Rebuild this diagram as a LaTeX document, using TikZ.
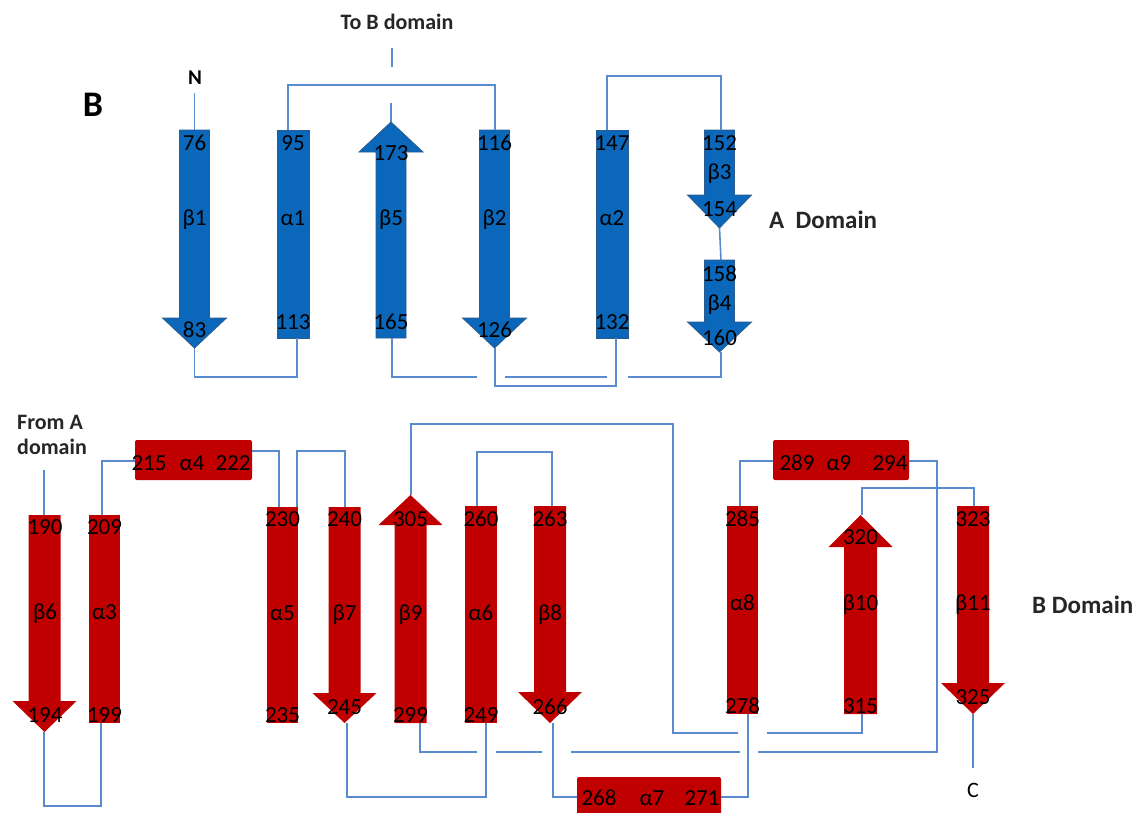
\documentclass[tikz,border=0pt]{standalone}
\usepackage{fontspec}
\setmainfont{Carlito}
\definecolor{ablue}{HTML}{0A67B9}
\definecolor{abluedge}{HTML}{2D5B8E}
\definecolor{bred}{HTML}{C00000}
\definecolor{linkblue}{HTML}{5A8BCF}
\newcommand\Strand[6]{% style, cx, shaft end, head base, tip, half shaft
  \path[#1] ({#2-#6},#3) -- ({#2+#6},#3) -- ({#2+#6},#4) -- ({#2+32},#4) -- (#2,#5) -- ({#2-32},#4) -- ({#2-#6},#4) -- cycle;}
\newcommand\Helix[5]{% style, cx, half width, top, bottom
  \path[#1] ({#2-#3},#4) rectangle ({#2+#3},#5);}
\begin{document}
\begin{tikzpicture}[x=1pt,y=-1pt,
  num/.style={font=\fontsize{23}{25}\selectfont, inner sep=0pt, text height=14.5pt, text depth=0pt, text=black},
  lab/.style={font=\bfseries\fontsize{22}{26}\selectfont, inner sep=0pt, text=black!85},
  dlab/.style={font=\bfseries\fontsize{25}{28}\selectfont, inner sep=0pt, text=black!85},
  conn/.style={draw=linkblue, line width=1.6pt},
  bA/.style={fill=ablue, draw=abluedge, line width=0.8pt},
  bB/.style={fill=bred},
  hbox/.style={fill=bred, rounded corners=2pt}]
\clip (0,0) rectangle (1146,812);
\fill[white] (0,0) rectangle (1146,812);

% ---------------- A domain ----------------
\Strand{bA}{194.5}{130}{318}{348}{15}
\Helix{bA}{293}{16}{130}{338}
\Strand{bA}{391}{338}{152}{122}{15}
\Strand{bA}{494.5}{130}{318}{348}{15}
\Helix{bA}{612}{16}{130}{338}
\Strand{bA}{719.5}{130}{195}{228}{15}
\Strand{bA}{719.5}{260}{322}{352}{15}

\coordinate (Nend) at (194.5,93);
\coordinate (b1s) at (194.5,130);
\coordinate (b1e) at (194.5,348);
\coordinate (a1s) at (288,130);
\coordinate (a1e) at (297,338);
\coordinate (b5s) at (392,338);
\coordinate (b5e) at (391,122);
\coordinate (b5up) at (391,103);
\coordinate (toB1) at (392,48);
\coordinate (toB2) at (392,67);
\coordinate (b2s) at (495,130);
\coordinate (b2e) at (495,348);
\coordinate (a2s) at (616,338);
\coordinate (a2e) at (607,130);
\coordinate (b3s) at (721,130);
\coordinate (b3e) at (719.5,228);
\coordinate (b4s) at (721,260);
\coordinate (b4e) at (721,352);

\draw[conn] (Nend) -- (b1s);
\draw[conn] (b1e) -- (194.5,377) -- (297,377) -- (a1e);
\draw[conn] (a1s) -- (288,85) -- (495,85) -- (b2s);
\draw[conn] (toB1) -- (toB2);
\draw[conn] (b5up) -- (b5e);
\draw[conn] (b4e) -- (721,377) -- (628,377);
\draw[conn] (607,377) -- (505,377);
\draw[conn] (477,377) -- (392,377) -- (b5s);
\draw[conn] (b2e) -- (495,386) -- (616,386) -- (a2s);
\draw[conn] (a2e) -- (607,76) -- (721,76) -- (b3s);
\draw[conn] (b3e) -- (b4s);

\node[num] (t76) at (194.5,143) {76};
\node[num] (tb1) at (194.5,218) {β1};
\node[num] (t83) at (194.5,330) {83};
\node[num] (t95) at (293,143) {95};
\node[num] (ta1) at (293,218) {α1};
\node[num] (t113) at (293,322) {113};
\node[num] (t173) at (391,153) {173};
\node[num] (tb5) at (391,218) {β5};
\node[num] (t165) at (391,322) {165};
\node[num] (t116) at (494.5,143) {116};
\node[num] (tb2) at (494.5,218) {β2};
\node[num] (t126) at (494.5,330) {126};
\node[num] (t147) at (612,143) {147};
\node[num] (ta2) at (612,218) {α2};
\node[num] (t132) at (612,322) {132};
\node[num] (t152) at (719.5,143) {152};
\node[num] (tb3) at (719.5,172) {β3};
\node[num] (t154) at (719.5,209) {154};
\node[num] (t158) at (719.5,274) {158};
\node[num] (tb4) at (719.5,303) {β4};
\node[num] (t160) at (719.5,338) {160};

\node[font=\bfseries\fontsize{36}{40}\selectfont, inner sep=0pt] (panel) at (93,105) {B};
\node[font=\bfseries\fontsize{21}{24}\selectfont, inner sep=0pt] (Nlab) at (195,78) {N};
\node[lab] (toB) at (397,22) {To B domain};
\node[dlab, anchor=west] (Adom) at (769,220) {A\ \ Domain};

% ---------------- B domain ----------------
\Strand{bB}{44.5}{515}{701}{732}{16}
\Helix{bB}{104.5}{15.5}{515}{723}
\Helix{bB}{282.5}{15.5}{507}{723}
\Strand{bB}{344.5}{507}{693}{723}{16}
\Strand{bB}{410.5}{723}{525}{495}{16}
\Helix{bB}{481}{16}{506}{723}
\Strand{bB}{550}{506}{692}{723}{16}
\Helix{bB}{742.5}{15.5}{506}{714}
\Strand{bB}{860.5}{714}{547}{515}{16.5}
\Strand{bB}{973}{506}{683}{714}{16}
\path[hbox] (135,440) rectangle (252,480);
\path[hbox] (773,440) rectangle (909,480);
\path[hbox] (577,777) rectangle (721,830);

\coordinate (fromA) at (44,470);
\coordinate (b6s) at (44,515);
\coordinate (b6e) at (44,732);
\coordinate (a3s) at (101,723);
\coordinate (a3e) at (102,515);
\coordinate (a4s) at (135,461);
\coordinate (a4e) at (252,451);
\coordinate (a5s) at (279,507);
\coordinate (a5e) at (297,507);
\coordinate (b7s) at (345,507);
\coordinate (b7e) at (347,723);
\coordinate (a6s) at (486,723);
\coordinate (a6e) at (477,506);
\coordinate (b8s) at (552,506);
\coordinate (b8e) at (553,723);
\coordinate (a7s) at (577,797);
\coordinate (a7e) at (721,797);
\coordinate (a8s) at (748,714);
\coordinate (a8e) at (740,506);
\coordinate (a9s) at (773,461);
\coordinate (a9e) at (909,461);
\coordinate (b9s) at (420,723);
\coordinate (b9e) at (411,495);
\coordinate (b10s) at (862,714);
\coordinate (b10e) at (862,515);
\coordinate (b11s) at (974,506);
\coordinate (b11e) at (973,714);
\coordinate (Cend) at (973,768);

\draw[conn] (fromA) -- (b6s);
\draw[conn] (b6e) -- (44,806) -- (101,806) -- (a3s);
\draw[conn] (a3e) -- (102,461) -- (a4s);
\draw[conn] (a4e) -- (279,451) -- (a5s);
\draw[conn] (a5e) -- (297,451) -- (345,451) -- (b7s);
\draw[conn] (b7e) -- (347,797) -- (486,797) -- (a6s);
\draw[conn] (a6e) -- (477,452) -- (552,452) -- (b8s);
\draw[conn] (b8e) -- (553,797) -- (a7s);
\draw[conn] (a7e) -- (748,797) -- (a8s);
\draw[conn] (a8e) -- (740,461) -- (a9s);
\draw[conn] (a9e) -- (937,461) -- (937,752) -- (758,752);
\draw[conn] (740,752) -- (571,752);
\draw[conn] (542,752) -- (496,752);
\draw[conn] (477,752) -- (420,752) -- (b9s);
\draw[conn] (b9e) -- (411,424) -- (673,424) -- (673,733) -- (738,733);
\draw[conn] (767,733) -- (862,733) -- (b10s);
\draw[conn] (b10e) -- (862,488) -- (974,488) -- (b11s);
\draw[conn] (b11e) -- (Cend);

\node[num] (t190) at (45,527) {190};
\node[num] (tb6) at (45,612) {β6};
\node[num] (t194) at (45,715) {194};
\node[num] (t209) at (104.5,527) {209};
\node[num] (ta3) at (104.5,612) {α3};
\node[num] (t199) at (104.5,715) {199};
\node[num] (t230) at (282.5,519) {230};
\node[num] (ta5) at (282.5,613) {α5};
\node[num] (t235) at (282.5,715) {235};
\node[num] (t240) at (344.5,519) {240};
\node[num] (tb7) at (344.5,613) {β7};
\node[num] (t245) at (344.5,707) {245};
\node[num] (t305) at (410.5,519) {305};
\node[num] (tb9) at (410.5,613) {β9};
\node[num] (t299) at (410.5,715) {299};
\node[num] (t260) at (481,519) {260};
\node[num] (ta6) at (481,613) {α6};
\node[num] (t249) at (481,715) {249};
\node[num] (t263) at (550,519) {263};
\node[num] (tb8) at (550,613) {β8};
\node[num] (t266) at (550,707) {266};
\node[num] (t285) at (742.5,519) {285};
\node[num] (ta8) at (742.5,603) {α8};
\node[num] (t278) at (742.5,706) {278};
\node[num] (t320) at (860.5,537) {320};
\node[num] (tb10) at (860.5,603) {β10};
\node[num] (t315) at (860.5,706) {315};
\node[num] (t323) at (973,519) {323};
\node[num] (tb11) at (973,603) {β11};
\node[num] (t325) at (973,697) {325};
\node[num] (t215) at (149,463) {215};
\node[num] (ta4) at (192,463) {α4};
\node[num] (t222) at (233,463) {222};
\node[num] (t289) at (797,463) {289};
\node[num] (ta9) at (839,463) {α9};
\node[num] (t294) at (890,463) {294};
\node[num] (t268) at (599,798) {268};
\node[num] (ta7) at (652,798) {α7};
\node[num] (t271) at (702,798) {271};

\node[lab, align=left, anchor=north west] (fromAlab) at (17,415) {From A\\[-1pt]domain};
\node[font=\fontsize{22}{24}\selectfont, inner sep=0pt] (Clab) at (973,790) {C};
\node[dlab, anchor=west] (Bdom) at (1032,605) {B Domain};
\end{tikzpicture}
\end{document}
